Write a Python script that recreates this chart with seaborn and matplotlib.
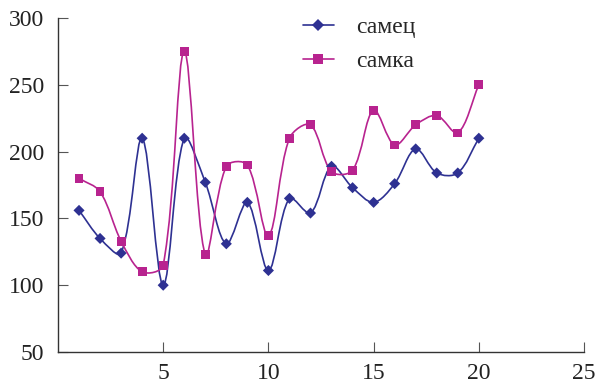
import numpy as np
import pandas as pd
import matplotlib
matplotlib.use('Agg')
import matplotlib.pyplot as plt
from matplotlib.path import Path
from matplotlib.patches import PathPatch
from matplotlib.lines import Line2D
import seaborn as sns

# Data
days = list(range(1, 21))
male = [156, 135, 124, 210, 100, 210, 177, 131, 162, 111,
        165, 154, 189, 173, 162, 176, 202, 184, 184, 210]
female = [180, 170, 133, 110, 115, 275, 123, 189, 190, 137,
          210, 220, 185, 186, 231, 205, 220, 227, 214, 250]
labels = ['самец', 'самка']
colors = ['#2E3192', '#B8238F']
markers = ['D', 's']

df = pd.DataFrame({'x': days * 2,
                   'y': male + female,
                   'sex': [labels[0]] * len(days) + [labels[1]] * len(days)})

sns.set_style('ticks')
plt.rcParams['font.family'] = ['Liberation Serif', 'DejaVu Serif']

fig = plt.figure(figsize=(5.99, 3.87), dpi=100)
ax = fig.add_axes([0.0968, 0.0904, 0.8782, 0.8631])
ax.set_xlim(0, 25)
ax.set_ylim(50, 300)


def smooth_path(xs, ys, t=1.0 / 3):
    # Excel-like smoothed line: Bezier control points weighted by segment length
    # (computed in display space, then mapped back to data coordinates)
    pts = ax.transData.transform(np.column_stack([xs, ys]).astype(float))
    n = len(pts)
    ctrl_in = [None] * n
    ctrl_out = [None] * n
    for i in range(n):
        prev = pts[i - 1] if i > 0 else pts[i]
        nxt = pts[i + 1] if i + 1 < n else pts[i]
        d1 = np.hypot(*(pts[i] - prev))
        d2 = np.hypot(*(nxt - pts[i]))
        tan = nxt - prev
        tot = d1 + d2 if d1 + d2 > 0 else 1.0
        ctrl_in[i] = pts[i] - tan * t * d1 / tot
        ctrl_out[i] = pts[i] + tan * t * d2 / tot
    verts = [pts[0]]
    codes = [Path.MOVETO]
    for i in range(n - 1):
        verts += [ctrl_out[i], ctrl_in[i + 1], pts[i + 1]]
        codes += [Path.CURVE4] * 3
    verts = ax.transData.inverted().transform(np.array(verts))
    return Path(verts, codes)


for lab, col in zip(labels, colors):
    sub = df[df['sex'] == lab]
    ax.add_patch(PathPatch(smooth_path(sub['x'], sub['y']), fill=False,
                           edgecolor=col, lw=1.2, zorder=2))

for lab, col, m, sz in zip(labels, colors, markers, [32, 40]):
    sns.scatterplot(data=df[df['sex'] == lab], x='x', y='y', color=col,
                    marker=m, s=sz, edgecolor='none', legend=False, ax=ax, zorder=3)

ax.set_xticks([5, 10, 15, 20, 25])
ax.set_yticks([50, 100, 150, 200, 250, 300])
ax.set_xlabel('')
ax.set_ylabel('')
ax.tick_params(direction='in', length=7, width=0.8, color='#555555',
               labelsize=17, pad=8, labelcolor='#222222')
ax.tick_params(axis='y', pad=10)
for s in ['top', 'right']:
    ax.spines[s].set_visible(False)
for s in ['left', 'bottom']:
    ax.spines[s].set_linewidth(1.0)
    ax.spines[s].set_color('#333333')

handles = [Line2D([], [], color=c, marker=m, lw=1.2, markersize=6 if m == 'D' else 7,
                  markeredgewidth=0)
           for c, m in zip(colors, markers)]
ax.legend(handles, labels, loc='upper left', bbox_to_anchor=(0.466, 1.005),
          frameon=False, fontsize=17, handlelength=1.3, handletextpad=0.95,
          labelspacing=0.55, borderpad=0, borderaxespad=0)

fig.savefig('out.png', dpi=100)
